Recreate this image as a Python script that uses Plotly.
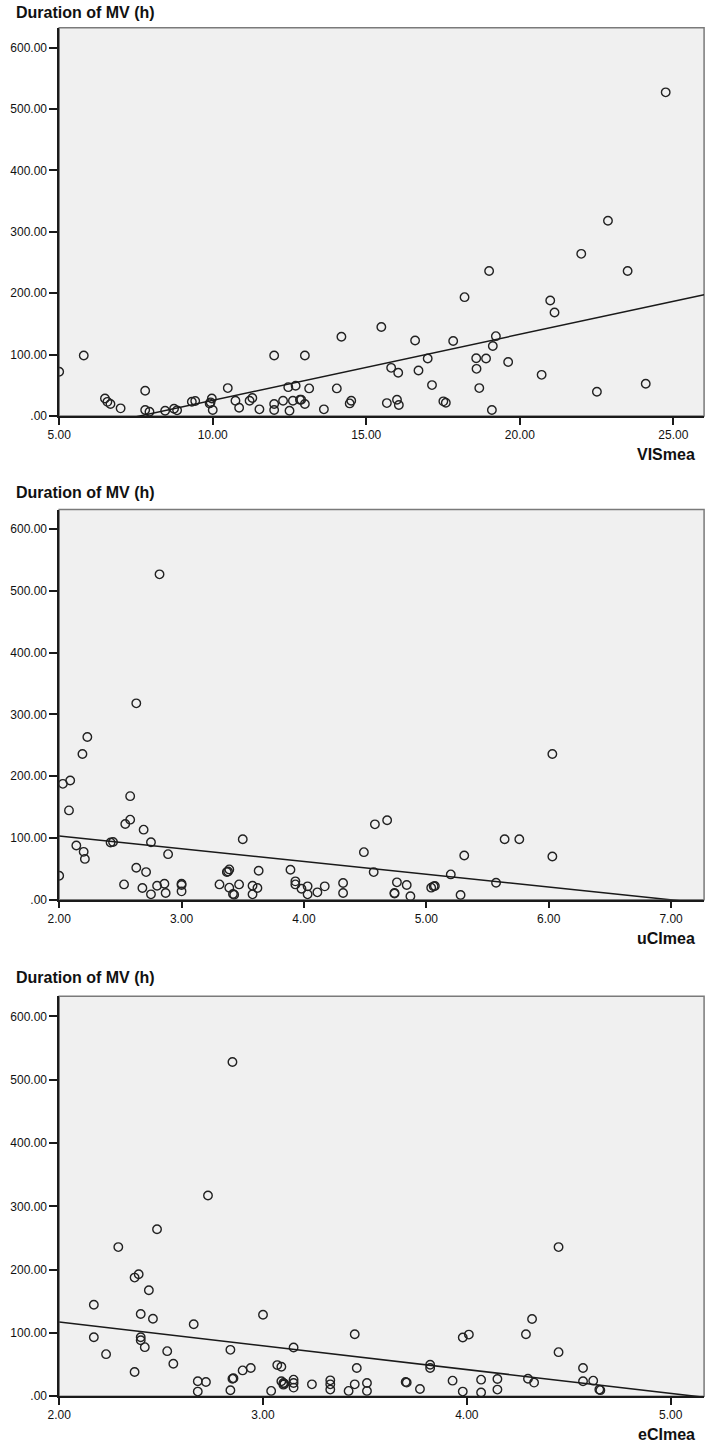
import plotly.graph_objects as go

W, H = 709, 1452

# ---------------- data ----------------
vis_x = [5.0, 5.8, 6.49, 6.57, 6.67, 7.0, 7.8, 7.8, 7.94, 8.45, 8.74, 8.84, 9.32, 9.43,
         9.93, 9.97, 10.0, 9.9, 10.49, 10.74, 10.86, 11.2, 11.29, 11.52, 12.0, 12.0, 12.0,
         12.29, 12.46, 12.5, 12.61, 12.7, 12.84, 12.88, 13.0, 13.0, 13.14, 13.62, 14.04,
         14.19, 14.46, 14.51, 15.49, 15.67, 15.81, 16.0, 16.04, 16.06, 16.59, 16.7, 17.0,
         17.14, 17.51, 17.59, 17.83, 18.2, 18.58, 18.59, 18.68, 18.9, 19.0, 19.09, 19.12,
         19.22, 19.62, 20.71, 20.99, 21.13, 22.0, 22.51, 23.51, 24.1, 22.87, 24.75]
vis_y = [72, 98.4, 28.6, 23, 19.5, 12.4, 41, 9.7, 7, 8.6, 11.9, 9.2, 23.2, 24.3,
         22.2, 28.6, 9.7, 20.5, 45.4, 24.9, 13.5, 24.9, 29.2, 10.8, 98.4, 19.5, 9.7,
         24.9, 47, 8.6, 24.9, 49.2, 26.5, 26.5, 98.4, 19.5, 44.9, 10.8, 44.9,
         129, 20.5, 24.9, 145, 21, 78.4, 26.5, 70.3, 17.8, 123, 74, 93.5,
         50.3, 23.8, 21.6, 122, 193.5, 94, 76.8, 45.4, 93.5, 236, 9.7, 114,
         130, 88, 67, 188, 168.6, 264, 39.5, 236, 52.4, 318, 527]

uci_x = [2.0, 2.03, 2.09, 2.08, 2.14, 2.19, 2.20, 2.21, 2.23, 2.42, 2.44, 2.53, 2.54, 2.58,
         2.58, 2.63, 2.68, 2.69, 2.71, 2.75, 2.75, 2.80, 2.86, 2.87, 2.89, 3.0, 3.0, 3.0,
         3.31, 3.37, 3.39, 3.38, 3.39, 3.42, 3.43, 3.47, 3.50, 3.58, 3.58, 3.62, 3.63,
         3.89, 3.93, 3.93, 3.98, 4.03, 4.03, 4.11, 4.17, 4.32, 4.32, 4.49, 4.57, 4.58,
         4.68, 4.74, 4.74, 4.76, 4.84, 4.87, 5.04, 5.06, 5.07, 5.20, 5.28, 5.31, 5.57,
         5.64, 5.76, 6.03, 6.03, 2.63, 2.82]
uci_y = [38.7, 187.6, 193, 144.6, 87.6, 236, 77.4, 66, 263.4, 92.5, 93.5, 24.7, 122.6, 167.7,
         129.6, 51.6, 18.8, 113.4, 44.6, 93, 8.6, 22.6, 25.8, 10.8, 73.7, 25.8, 23.7, 13.4,
         24.7, 44.6, 49, 45.5, 19.4, 9.1, 8, 24.7, 97.8, 22.6, 8.6, 18.8, 46.8,
         48.4, 29.6, 24.7, 17.7, 21.5, 8.6, 11.8, 21.5, 26.9, 10.8, 76.9, 44.6, 122,
         128.5, 10.8, 9.8, 28, 23.7, 5.4, 19.4, 21.5, 22, 40.9, 7.5, 71.5, 27.4,
         97.8, 97.8, 236, 70, 318, 527]

eci_x = [2.17, 2.17, 2.23, 2.29, 2.37, 2.37, 2.39, 2.40, 2.40, 2.40, 2.42, 2.44, 2.46, 2.48,
         2.53, 2.56, 2.66, 2.68, 2.68, 2.72, 2.84, 2.84, 2.85, 2.855, 2.90, 2.94, 3.0, 3.04,
         3.07, 3.09, 3.09, 3.10, 3.10, 3.105, 3.15, 3.15, 3.15, 3.15, 3.24, 3.33, 3.33, 3.33,
         3.42, 3.45, 3.45, 3.46, 3.51, 3.51, 3.70, 3.705, 3.77, 3.82, 3.82, 3.93, 3.98, 3.98,
         4.01, 4.07, 4.07, 4.15, 4.15, 4.29, 4.30, 4.32, 4.33, 4.45, 4.45, 4.57, 4.57, 4.62,
         4.65, 4.655, 2.73, 2.85]
eci_y = [144.5, 93.2, 66.5, 235.6, 187.4, 38.2, 192.7, 129.8, 93.2, 88.5, 77.5, 167.5, 122.5, 263.9,
         71.2, 51.3, 113.6, 23.6, 7.3, 22.5, 73.3, 9.4, 27.7, 28.5, 40.8, 44.5, 128.8, 8.4,
         49.2, 46.6, 23.6, 20.9, 18.3, 19.8, 77, 26.2, 20.9, 13.6, 18.8, 25.1, 18.8, 10.5,
         8.4, 97.9, 18.8, 44.5, 20.9, 8.4, 22.5, 21.5, 11.5, 49.7, 44.5, 24.6, 92.7, 7.3,
         97.4, 26.2, 5.8, 27.2, 10.5, 97.9, 27.7, 122, 21.5, 235.6, 69.6, 44.5, 23.6, 24.6,
         10.5, 9.6, 317, 528]

# linear fit lines (intercept, slope)
vis_fit = (-82.0, 10.75)
uci_fit = (144.6, -20.7)
eci_fit = (192.5, -37.6)

y_ticks = [0, 100, 200, 300, 400, 500, 600]
y_ticktext = [".00", "100.00", "200.00", "300.00", "400.00", "500.00", "600.00"]
vis_ticks = [5, 10, 15, 20, 25]
uci_ticks = [2, 3, 4, 5, 6, 7]
eci_ticks = [2, 3, 4, 5]

y_title = "Duration of MV (h)"
x_titles = ["VISmea", "uCImea", "eCImea"]

# ---------------- layout geometry (pixels) ----------------
panels = [
    dict(x=vis_x, y=vis_y, fit=vis_fit, ticks=vis_ticks, xr=[5, 26.0], top=28, bot=418,
         ttl=13, xt=457),
    dict(x=uci_x, y=uci_y, fit=uci_fit, ticks=uci_ticks, xr=[2, 7.27], top=512, bot=904,
         ttl=495, xt=943),
    dict(x=eci_x, y=eci_y, fit=eci_fit, ticks=eci_ticks, xr=[2, 5.164], top=1001, bot=1403,
         ttl=982, xt=1441),
]
left, right = 48, 704
yr = [0, 632]

fig = go.Figure()
font = "Liberation Sans, Arial, sans-serif"
annotations = []
shapes = []
for i, p in enumerate(panels):
    n = "" if i == 0 else str(i + 1)
    xa, ya = "x" + n, "y" + n
    fig.add_trace(go.Scatter(
        x=p["x"], y=p["y"], mode="markers", xaxis=xa, yaxis=ya,
        marker=dict(symbol="circle-open", size=8.5, color="#222", line=dict(width=1.4)),
        showlegend=False, hoverinfo="x+y"))
    b, m = p["fit"]
    lx = list(p["xr"])
    fig.add_trace(go.Scatter(
        x=lx, y=[b + m * v for v in lx], mode="lines", xaxis=xa, yaxis=ya,
        line=dict(color="#1a1a1a", width=1.5), showlegend=False, hoverinfo="skip"))
    ydom = [1 - p["bot"] / H, 1 - p["top"] / H]
    xdom = [left / W, right / W]
    fig.update_layout(**{
        "xaxis" + n: dict(domain=xdom, range=p["xr"], anchor=ya, tickvals=p["ticks"],
                          ticktext=["%.2f" % t for t in p["ticks"]], showgrid=False,
                          zeroline=False, showline=True, linecolor="#1a1a1a", linewidth=1.5,
                          ticks="outside", ticklen=7, tickwidth=1.5, tickcolor="#1a1a1a",
                          tickfont=dict(family=font, size=12, color="#111")),
        "yaxis" + n: dict(domain=ydom, range=yr, anchor=xa, tickvals=y_ticks,
                          ticktext=y_ticktext, showgrid=False, zeroline=False,
                          showline=True, linecolor="#1a1a1a", linewidth=1.5,
                          ticks="outside", ticklen=8, tickwidth=1.5, tickcolor="#1a1a1a",
                          tickfont=dict(family=font, size=12, color="#111")),
    })
    shapes.append(dict(type="rect", xref="paper", yref="paper", x0=xdom[0], x1=xdom[1],
                       y0=ydom[0], y1=ydom[1], line=dict(color="#7a7a7a", width=1.5),
                       fillcolor="rgba(0,0,0,0)", layer="below"))
    annotations.append(dict(text="<b>%s</b>" % y_title, xref="paper", yref="paper",
                            x=2 / W, y=1 - p["ttl"] / H, xanchor="left", yanchor="middle",
                            showarrow=False, font=dict(family=font, size=16, color="#111")))
    annotations.append(dict(text="<b>%s</b>" % x_titles[i], xref="paper", yref="paper",
                            x=697 / W, y=1 - p["xt"] / H, xanchor="right", yanchor="middle",
                            showarrow=False, font=dict(family=font, size=16, color="#111")))

fig.update_layout(width=W, height=H, margin=dict(l=0, r=0, t=0, b=0),
                  paper_bgcolor="white", plot_bgcolor="#f0f0f0",
                  annotations=annotations, shapes=shapes)
fig.write_html("out.html")
